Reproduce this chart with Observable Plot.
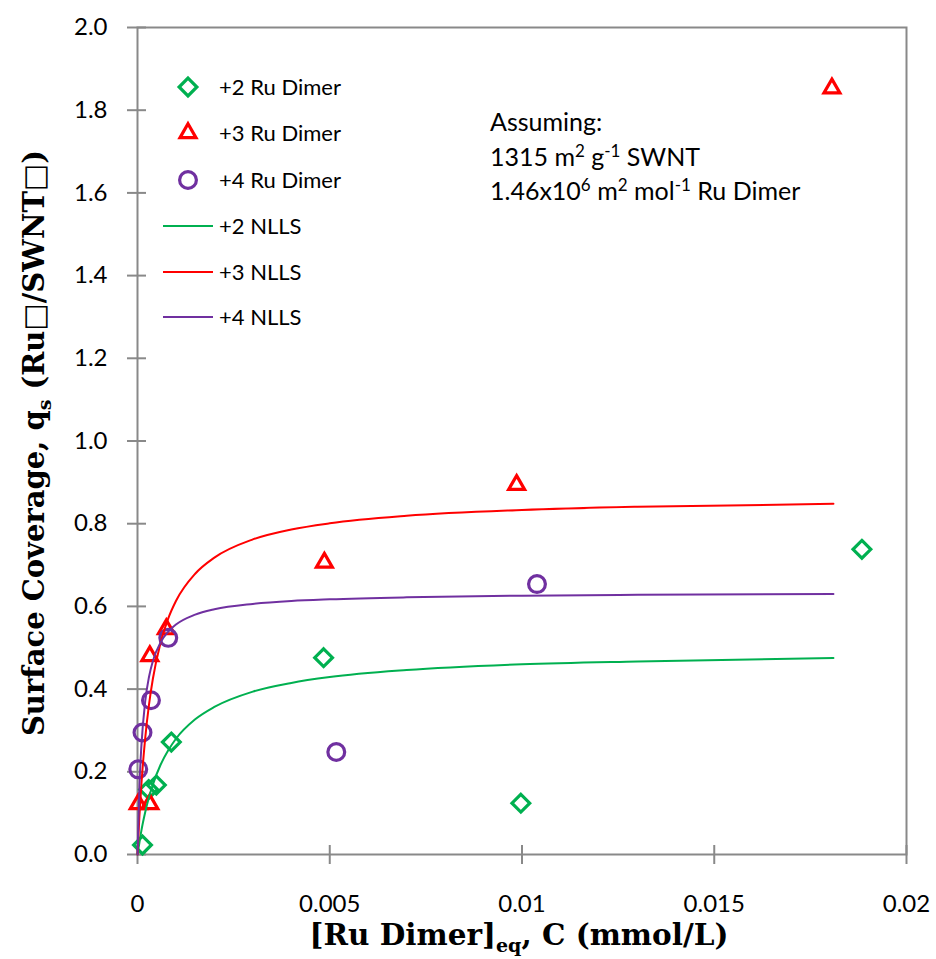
<!DOCTYPE html>
<html>
<head>
<meta charset="utf-8">
<script src="https://cdn.jsdelivr.net/npm/d3@7"></script>
<script src="https://cdn.jsdelivr.net/npm/@observablehq/plot@0.6"></script>
<style>
  body { margin: 0; background: #fff; }
  #chart svg { display: block; }
</style>
</head>
<body>
<div id="chart"></div>
<script>
// Measured surface coverage vs. equilibrium concentration (mmol/L)
const conc2 = [0.00013, 0.00029, 0.00049, 0.00088, 0.00484, 0.00997, 0.01884];
const cover2 = [0.023, 0.157, 0.168, 0.272, 0.476, 0.124, 0.738];

const conc3 = [0.00002, 0.00032, 0.00032, 0.00075, 0.00486, 0.00986, 0.01806];
const cover3 = [0.122, 0.122, 0.480, 0.545, 0.706, 0.894, 1.853];

const conc4 = [0.00002, 0.00013, 0.00035, 0.00080, 0.00517, 0.01039];
const cover4 = [0.206, 0.295, 0.373, 0.524, 0.248, 0.654];

// NLLS (Langmuir) fit curves, sampled along C
const fitConc = [0, 0.00005, 0.0001, 0.0002, 0.0003, 0.0004, 0.0006, 0.0008, 0.001, 0.0015, 0.002, 0.003, 0.004, 0.005, 0.007, 0.01, 0.013, 0.0181];
const fitCover2 = [0, 0.029, 0.057, 0.102, 0.139, 0.169, 0.217, 0.252, 0.280, 0.327, 0.357, 0.394, 0.415, 0.429, 0.446, 0.460, 0.467, 0.475];
const fitCover3 = [0, 0.093, 0.168, 0.281, 0.363, 0.425, 0.512, 0.571, 0.613, 0.679, 0.718, 0.762, 0.786, 0.801, 0.819, 0.833, 0.841, 0.848];
const fitCover4 = [0, 0.165, 0.261, 0.370, 0.430, 0.468, 0.513, 0.539, 0.556, 0.580, 0.593, 0.606, 0.613, 0.617, 0.622, 0.626, 0.628, 0.630];

const seriesNames = ["+2 Ru Dimer", "+3 Ru Dimer", "+4 Ru Dimer"];
const fitNames = ["+2 NLLS", "+3 NLLS", "+4 NLLS"];
const seriesColors = ["#00B050", "#FF0000", "#7030A0"];
const seriesSymbols = ["diamond2", "triangle2", "circle"];

const xTicks = [0, 0.005, 0.01, 0.015, 0.02];
const yTicks = [0, 0.2, 0.4, 0.6, 0.8, 1.0, 1.2, 1.4, 1.6, 1.8, 2.0];

const axisGray = "#898989";

const toRows = (cs, qs) => cs.map((c, i) => ({c, q: qs[i]}));
const points = [toRows(conc2, cover2), toRows(conc3, cover3), toRows(conc4, cover4)];
const fits = [fitCover2, fitCover3, fitCover4].map(qs => toRows(fitConc, qs));
const markerR = [8, 7.6, 8.4];

const W = 936, H = 959;

const plot = Plot.plot({
  width: W,
  height: H,
  marginLeft: 137,
  marginRight: 30,
  marginTop: 27,
  marginBottom: 105,
  x: {domain: [0, 0.02], label: null},
  y: {domain: [0, 2], label: null},
  style: {fontFamily: "Lato, 'Open Sans', sans-serif", fontSize: "24px", color: "#000", background: "#fff"},
  marks: [
    Plot.frame({stroke: axisGray, strokeWidth: 2}),
    // crossing tick marks
    Plot.axisX(xTicks, {tickSize: 19, dy: -9, fill: "none", stroke: axisGray, strokeWidth: 2, label: null}),
    Plot.axisY(yTicks, {tickSize: 19, dx: 9, fill: "none", stroke: axisGray, strokeWidth: 2, label: null}),
    // tick labels
    Plot.axisX(xTicks, {tickSize: 0, tickPadding: 40, stroke: "none", tickFormat: d => String(d), label: null}),
    Plot.axisY(yTicks, {tickSize: 0, tickPadding: 30, stroke: "none", tickFormat: d3.format(".1f"), label: null}),
    // data markers
    ...points.map((rows, i) => Plot.dot(rows, {
      x: "c", y: "q", symbol: seriesSymbols[i], r: markerR[i],
      stroke: seriesColors[i], strokeWidth: 3.2, fill: "none"
    })),
    // fitted curves
    ...fits.map((rows, i) => Plot.line(rows, {
      x: "c", y: "q", stroke: seriesColors[i], strokeWidth: 2, curve: "monotone-x"
    }))
  ]
});

document.getElementById("chart").appendChild(plot);

const svg = d3.select(plot);

// Legend
const legend = svg.append("g")
  .attr("font-family", "Lato, 'Open Sans', sans-serif").attr("font-size", 22)
  .attr("text-anchor", "start");
const legendMarkerY = [87, 133, 180];
const legendLineY = [226, 272, 317];
const d3Symbols = [d3.symbolDiamond2, d3.symbolTriangle2, d3.symbolCircle];
seriesNames.forEach((name, i) => {
  legend.append("path")
    .attr("d", d3.symbol(d3Symbols[i], Math.PI * markerR[i] * markerR[i])())
    .attr("transform", `translate(188,${legendMarkerY[i]})`)
    .attr("fill", "none").attr("stroke", seriesColors[i]).attr("stroke-width", 3.2);
  legend.append("text").attr("x", 219).attr("y", legendMarkerY[i]).attr("dy", "0.35em").text(name);
});
fitNames.forEach((name, i) => {
  legend.append("line")
    .attr("x1", 163).attr("x2", 213).attr("y1", legendLineY[i]).attr("y2", legendLineY[i])
    .attr("stroke", seriesColors[i]).attr("stroke-width", 2);
  legend.append("text").attr("x", 219).attr("y", legendLineY[i]).attr("dy", "0.35em").text(name);
});

// Assumptions note
const note = svg.append("g")
  .attr("font-family", "Lato, 'Open Sans', sans-serif").attr("font-size", 25)
  .attr("text-anchor", "start");
const supSize = 17, supShift = 9;
note.append("text").attr("x", 490).attr("y", 131).text("Assuming:");
const l2 = note.append("text").attr("x", 490).attr("y", 166);
l2.append("tspan").text("1315 m");
l2.append("tspan").attr("font-size", supSize).attr("dy", -supShift).text("2");
l2.append("tspan").attr("dy", supShift).text(" g");
l2.append("tspan").attr("font-size", supSize).attr("dy", -supShift).text("-1");
l2.append("tspan").attr("dy", supShift).text(" SWNT");
const l3 = note.append("text").attr("x", 490).attr("y", 200);
l3.append("tspan").text("1.46x10");
l3.append("tspan").attr("font-size", supSize).attr("dy", -supShift).text("6");
l3.append("tspan").attr("dy", supShift).text(" m");
l3.append("tspan").attr("font-size", supSize).attr("dy", -supShift).text("2");
l3.append("tspan").attr("dy", supShift).text(" mol");
l3.append("tspan").attr("font-size", supSize).attr("dy", -supShift).text("-1");
l3.append("tspan").attr("dy", supShift).text(" Ru Dimer");

// Axis titles
const titleFont = "'DejaVu Serif', 'Liberation Serif', serif";
const xt = svg.append("text")
  .attr("x", 519).attr("y", 945).attr("text-anchor", "middle")
  .attr("font-family", titleFont).attr("font-weight", "bold").attr("font-size", 29.5);
xt.append("tspan").text("[Ru Dimer]");
xt.append("tspan").attr("font-size", 19).attr("dy", 7).text("eq");
xt.append("tspan").attr("dy", -7).text(", C (mmol/L)");

const yt = svg.append("text")
  .attr("transform", "translate(44,443) rotate(-90)").attr("text-anchor", "middle")
  .attr("font-family", titleFont).attr("font-weight", "bold").attr("font-size", 29);
yt.append("tspan").text("Surface Coverage, q");
yt.append("tspan").attr("font-size", 19).attr("dy", 7).text("s");
yt.append("tspan").attr("dy", -7).text(" (Ru\u25A1/SWNT\u25A1)");
</script>
</body>
</html>
